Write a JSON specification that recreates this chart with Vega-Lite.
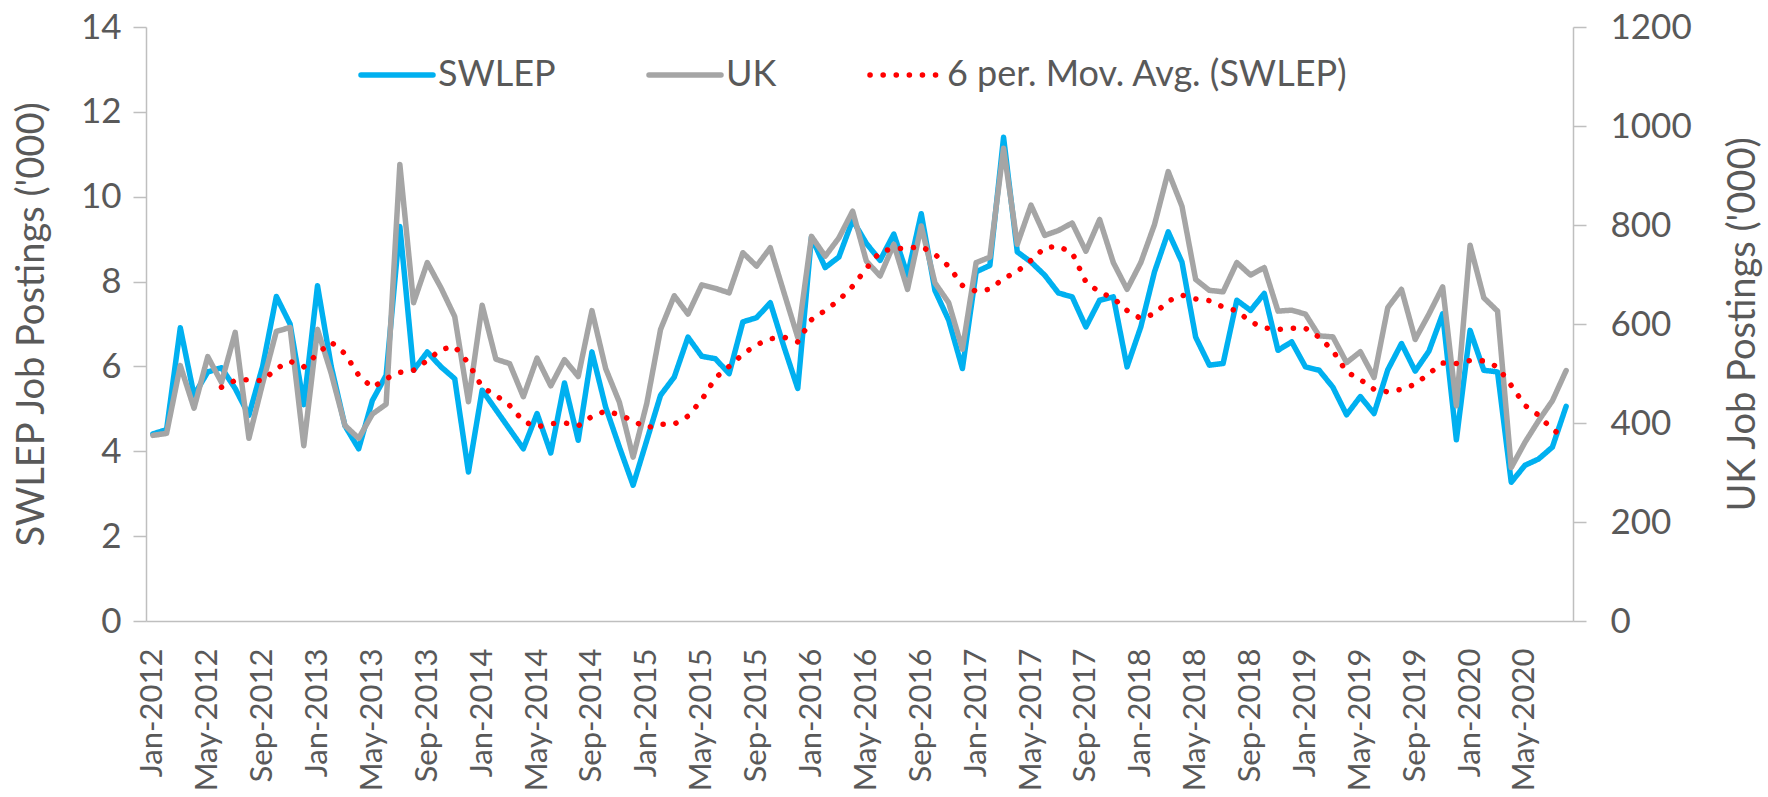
{
  "$schema": "https://vega.github.io/schema/vega-lite/v6.json",
  "width": 1427,
  "height": 594,
  "autosize": {"type": "none"},
  "padding": {"left": 146, "top": 27, "right": 195, "bottom": 176},
  "background": "white",
  "config": {
    "view": {"stroke": null},
    "font": "Lato",
    "axis": {"grid": false, "labelFont": "Lato", "titleFont": "Lato", "labelColor": "#595959", "titleColor": "#595959", "titleFontWeight": "normal", "domainColor": "#BFBFBF", "tickColor": "#BFBFBF", "domainWidth": 1.5, "tickWidth": 1.5},
    "legend": {"symbolType": "stroke", "symbolSize": 5184, "symbolStrokeWidth": 5.5, "labelFontSize": 36, "labelFont": "Lato", "labelColor": "#595959", "labelOffset": 2, "columnPadding": 82, "labelLimit": 1000}
  },
  "data": {"values": [
    {"d": "2012-01-01", "SWLEP": 4.41, "UK": 375},
    {"d": "2012-02-01", "SWLEP": 4.51, "UK": 379},
    {"d": "2012-03-01", "SWLEP": 6.91, "UK": 516},
    {"d": "2012-04-01", "SWLEP": 5.32, "UK": 430},
    {"d": "2012-05-01", "SWLEP": 5.87, "UK": 534},
    {"d": "2012-06-01", "SWLEP": 5.97, "UK": 482, "MA6": 5.51},
    {"d": "2012-07-01", "SWLEP": 5.48, "UK": 583, "MA6": 5.67},
    {"d": "2012-08-01", "SWLEP": 4.85, "UK": 369, "MA6": 5.69},
    {"d": "2012-09-01", "SWLEP": 6.0, "UK": 480, "MA6": 5.66},
    {"d": "2012-10-01", "SWLEP": 7.65, "UK": 585, "MA6": 5.95},
    {"d": "2012-11-01", "SWLEP": 7.0, "UK": 593, "MA6": 6.12},
    {"d": "2012-12-01", "SWLEP": 5.1, "UK": 354, "MA6": 5.99},
    {"d": "2013-01-01", "SWLEP": 7.9, "UK": 589, "MA6": 6.30},
    {"d": "2013-02-01", "SWLEP": 6.0, "UK": 500, "MA6": 6.57},
    {"d": "2013-03-01", "SWLEP": 4.6, "UK": 395, "MA6": 6.30},
    {"d": "2013-04-01", "SWLEP": 4.06, "UK": 369, "MA6": 5.79},
    {"d": "2013-05-01", "SWLEP": 5.2, "UK": 418, "MA6": 5.50},
    {"d": "2013-06-01", "SWLEP": 5.79, "UK": 438, "MA6": 5.71},
    {"d": "2013-07-01", "SWLEP": 9.3, "UK": 922, "MA6": 5.86},
    {"d": "2013-08-01", "SWLEP": 5.91, "UK": 643, "MA6": 5.91},
    {"d": "2013-09-01", "SWLEP": 6.34, "UK": 724, "MA6": 6.14},
    {"d": "2013-10-01", "SWLEP": 5.99, "UK": 673, "MA6": 6.40},
    {"d": "2013-11-01", "SWLEP": 5.71, "UK": 615, "MA6": 6.47},
    {"d": "2013-12-01", "SWLEP": 3.51, "UK": 443, "MA6": 6.08},
    {"d": "2014-01-01", "SWLEP": 5.44, "UK": 638, "MA6": 5.51},
    {"d": "2014-02-01", "SWLEP": 4.98, "UK": 529, "MA6": 5.32},
    {"d": "2014-03-01", "SWLEP": 4.52, "UK": 520, "MA6": 5.08},
    {"d": "2014-04-01", "SWLEP": 4.06, "UK": 453, "MA6": 4.71},
    {"d": "2014-05-01", "SWLEP": 4.89, "UK": 531, "MA6": 4.57},
    {"d": "2014-06-01", "SWLEP": 3.96, "UK": 475, "MA6": 4.65},
    {"d": "2014-07-01", "SWLEP": 5.61, "UK": 528, "MA6": 4.67},
    {"d": "2014-08-01", "SWLEP": 4.26, "UK": 494, "MA6": 4.60},
    {"d": "2014-09-01", "SWLEP": 6.34, "UK": 627, "MA6": 4.82},
    {"d": "2014-10-01", "SWLEP": 5.04, "UK": 510, "MA6": 4.95},
    {"d": "2014-11-01", "SWLEP": 4.10, "UK": 442, "MA6": 4.86},
    {"d": "2014-12-01", "SWLEP": 3.2, "UK": 331, "MA6": 4.72},
    {"d": "2015-01-01", "SWLEP": 4.26, "UK": 440, "MA6": 4.55},
    {"d": "2015-02-01", "SWLEP": 5.32, "UK": 589, "MA6": 4.64},
    {"d": "2015-03-01", "SWLEP": 5.75, "UK": 657, "MA6": 4.64},
    {"d": "2015-04-01", "SWLEP": 6.69, "UK": 620, "MA6": 4.83},
    {"d": "2015-05-01", "SWLEP": 6.24, "UK": 679, "MA6": 5.21},
    {"d": "2015-06-01", "SWLEP": 6.18, "UK": 672, "MA6": 5.73},
    {"d": "2015-07-01", "SWLEP": 5.83, "UK": 663, "MA6": 6.00},
    {"d": "2015-08-01", "SWLEP": 7.05, "UK": 744, "MA6": 6.29},
    {"d": "2015-09-01", "SWLEP": 7.15, "UK": 717, "MA6": 6.51},
    {"d": "2015-10-01", "SWLEP": 7.5, "UK": 754, "MA6": 6.65},
    {"d": "2015-11-01", "SWLEP": 6.46, "UK": 663, "MA6": 6.69},
    {"d": "2015-12-01", "SWLEP": 5.48, "UK": 573, "MA6": 6.58},
    {"d": "2016-01-01", "SWLEP": 9.05, "UK": 777, "MA6": 7.10},
    {"d": "2016-02-01", "SWLEP": 8.33, "UK": 737, "MA6": 7.32},
    {"d": "2016-03-01", "SWLEP": 8.58, "UK": 774, "MA6": 7.56},
    {"d": "2016-04-01", "SWLEP": 9.45, "UK": 828, "MA6": 7.89},
    {"d": "2016-05-01", "SWLEP": 8.9, "UK": 727, "MA6": 8.31},
    {"d": "2016-06-01", "SWLEP": 8.5, "UK": 697, "MA6": 8.70},
    {"d": "2016-07-01", "SWLEP": 9.12, "UK": 761, "MA6": 8.78},
    {"d": "2016-08-01", "SWLEP": 8.15, "UK": 670, "MA6": 8.78},
    {"d": "2016-09-01", "SWLEP": 9.6, "UK": 798, "MA6": 8.83},
    {"d": "2016-10-01", "SWLEP": 7.79, "UK": 683, "MA6": 8.64},
    {"d": "2016-11-01", "SWLEP": 7.09, "UK": 643, "MA6": 8.36},
    {"d": "2016-12-01", "SWLEP": 5.95, "UK": 549, "MA6": 7.91},
    {"d": "2017-01-01", "SWLEP": 8.23, "UK": 724, "MA6": 7.77},
    {"d": "2017-02-01", "SWLEP": 8.38, "UK": 735, "MA6": 7.82},
    {"d": "2017-03-01", "SWLEP": 11.4, "UK": 955, "MA6": 8.07},
    {"d": "2017-04-01", "SWLEP": 8.7, "UK": 761, "MA6": 8.24},
    {"d": "2017-05-01", "SWLEP": 8.46, "UK": 840, "MA6": 8.50},
    {"d": "2017-06-01", "SWLEP": 8.15, "UK": 779, "MA6": 8.80},
    {"d": "2017-07-01", "SWLEP": 7.73, "UK": 789, "MA6": 8.83},
    {"d": "2017-08-01", "SWLEP": 7.64, "UK": 804, "MA6": 8.68},
    {"d": "2017-09-01", "SWLEP": 6.93, "UK": 747, "MA6": 7.99},
    {"d": "2017-10-01", "SWLEP": 7.56, "UK": 811, "MA6": 7.75},
    {"d": "2017-11-01", "SWLEP": 7.64, "UK": 724, "MA6": 7.61},
    {"d": "2017-12-01", "SWLEP": 5.99, "UK": 670, "MA6": 7.32},
    {"d": "2018-01-01", "SWLEP": 6.93, "UK": 724, "MA6": 7.13},
    {"d": "2018-02-01", "SWLEP": 8.23, "UK": 801, "MA6": 7.24},
    {"d": "2018-03-01", "SWLEP": 9.17, "UK": 908, "MA6": 7.54},
    {"d": "2018-04-01", "SWLEP": 8.46, "UK": 838, "MA6": 7.68},
    {"d": "2018-05-01", "SWLEP": 6.69, "UK": 690, "MA6": 7.59},
    {"d": "2018-06-01", "SWLEP": 6.03, "UK": 668, "MA6": 7.55},
    {"d": "2018-07-01", "SWLEP": 6.07, "UK": 665, "MA6": 7.40},
    {"d": "2018-08-01", "SWLEP": 7.56, "UK": 724, "MA6": 7.31},
    {"d": "2018-09-01", "SWLEP": 7.32, "UK": 699, "MA6": 7.05},
    {"d": "2018-10-01", "SWLEP": 7.72, "UK": 714, "MA6": 6.91},
    {"d": "2018-11-01", "SWLEP": 6.38, "UK": 626, "MA6": 6.87},
    {"d": "2018-12-01", "SWLEP": 6.58, "UK": 628, "MA6": 6.90},
    {"d": "2019-01-01", "SWLEP": 5.99, "UK": 620, "MA6": 6.90},
    {"d": "2019-02-01", "SWLEP": 5.91, "UK": 576, "MA6": 6.69},
    {"d": "2019-03-01", "SWLEP": 5.51, "UK": 574, "MA6": 6.37},
    {"d": "2019-04-01", "SWLEP": 4.86, "UK": 522, "MA6": 5.87},
    {"d": "2019-05-01", "SWLEP": 5.29, "UK": 544, "MA6": 5.69},
    {"d": "2019-06-01", "SWLEP": 4.89, "UK": 492, "MA6": 5.46},
    {"d": "2019-07-01", "SWLEP": 5.92, "UK": 633, "MA6": 5.40},
    {"d": "2019-08-01", "SWLEP": 6.54, "UK": 670, "MA6": 5.46},
    {"d": "2019-09-01", "SWLEP": 5.89, "UK": 569, "MA6": 5.58},
    {"d": "2019-10-01", "SWLEP": 6.36, "UK": 620, "MA6": 5.83},
    {"d": "2019-11-01", "SWLEP": 7.24, "UK": 675, "MA6": 6.08},
    {"d": "2019-12-01", "SWLEP": 4.27, "UK": 435, "MA6": 6.07},
    {"d": "2020-01-01", "SWLEP": 6.85, "UK": 759, "MA6": 6.14},
    {"d": "2020-02-01", "SWLEP": 5.91, "UK": 653, "MA6": 6.13},
    {"d": "2020-03-01", "SWLEP": 5.87, "UK": 626, "MA6": 5.99},
    {"d": "2020-04-01", "SWLEP": 3.27, "UK": 310, "MA6": 5.55},
    {"d": "2020-05-01", "SWLEP": 3.67, "UK": 361, "MA6": 5.08},
    {"d": "2020-06-01", "SWLEP": 3.82, "UK": 405, "MA6": 4.85},
    {"d": "2020-07-01", "SWLEP": 4.10, "UK": 445, "MA6": 4.51},
    {"d": "2020-08-01", "SWLEP": 5.06, "UK": 506, "MA6": 4.32}
  ]},
  "encoding": {
    "x": {
      "field": "d", "timeUnit": "utcyearmonth", "type": "ordinal", "title": null,
      "axis": {"labelAngle": 270, "labelExpr": "utcmonth(datum.value) % 4 == 0 ? utcFormat(datum.value, '%b-%Y') : ''", "ticks": false, "tickSize": 0, "labelPadding": 27, "labelFontSize": 31, "labelOverlap": false, "labelBound": false}
    },
    "color": {
      "field": "series", "type": "nominal", "title": null,
      "scale": {"domain": ["SWLEP", "UK", "MA6"], "range": ["#00B0F0", "#A5A5A5", "#FF0000"]},
      "legend": {"orient": "none", "legendX": 212, "legendY": 9, "direction": "horizontal", "labelExpr": "datum.label == 'MA6' ? '6 per. Mov. Avg. (SWLEP)' : datum.label", "encode": {"symbols": {"update": {"strokeCap": {"value": "round"}}}}}
    },
    "strokeDash": {
      "field": "series", "type": "nominal", "title": null,
      "scale": {"domain": ["SWLEP", "UK", "MA6"], "range": [[1, 0], [1, 0], [0.1, 13]]},
      "legend": {"orient": "none", "legendX": 212, "legendY": 9, "direction": "horizontal", "labelExpr": "datum.label == 'MA6' ? '6 per. Mov. Avg. (SWLEP)' : datum.label", "encode": {"symbols": {"update": {"strokeCap": {"value": "round"}}}}}
    }
  },
  "layer": [
    {
      "transform": [{"fold": ["SWLEP"], "as": ["series", "value"]}],
      "mark": {"type": "line", "strokeWidth": 5.5, "strokeCap": "round", "strokeJoin": "round"},
      "encoding": {
        "y": {"field": "value", "type": "quantitative", "scale": {"domain": [0, 14], "nice": false},
          "axis": {"title": "SWLEP Job Postings ('000)", "values": [0, 2, 4, 6, 8, 10, 12, 14], "tickSize": 13, "labelPadding": 12, "labelFontSize": 35, "titleFontSize": 38, "titleX": -114, "titleY": 297, "titleAngle": 270, "titleAlign": "center", "titleBaseline": "middle"}}
      }
    },
    {
      "transform": [{"fold": ["UK"], "as": ["series", "value"]}],
      "mark": {"type": "line", "strokeWidth": 5.5, "strokeCap": "round", "strokeJoin": "round"},
      "encoding": {
        "y": {"field": "value", "type": "quantitative", "scale": {"domain": [0, 1200], "nice": false},
          "axis": {"orient": "right", "title": "UK Job Postings ('000)", "format": "d", "values": [0, 200, 400, 600, 800, 1000, 1200], "tickSize": 13, "labelPadding": 24, "labelFontSize": 35, "titleFontSize": 38, "titleX": 170, "titleY": 297, "titleAngle": 270, "titleAlign": "center", "titleBaseline": "middle"}}
      }
    },
    {
      "transform": [{"fold": ["MA6"], "as": ["series", "value"]}, {"filter": "isValid(datum.value)"}],
      "mark": {"type": "line", "strokeWidth": 5.5, "strokeCap": "round", "strokeJoin": "round"},
      "encoding": {
        "y": {"field": "value", "type": "quantitative", "scale": {"domain": [0, 14], "nice": false}, "axis": null}
      }
    }
  ],
  "resolve": {"scale": {"y": "independent"}, "axis": {"y": "independent"}}
}
